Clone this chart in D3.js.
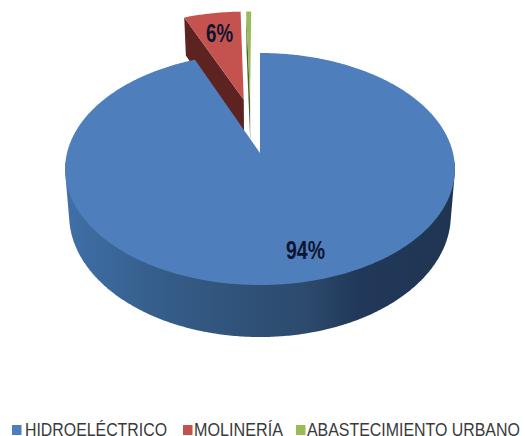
<!DOCTYPE html>
<html><head><meta charset="utf-8">
<script src="https://cdn.jsdelivr.net/npm/d3@7"></script>
<style>html,body{margin:0;padding:0;background:#fff}svg{display:block}</style>
</head><body><svg id="c" width="525" height="436"></svg>
<script>
const categories = ["HIDROELÉCTRICO", "MOLINERÍA", "ABASTECIMIENTO URBANO"];
const values = [93.8, 5.7, 0.5];
const sliceLabels = ["94%", "6%", ""];
const topColors = ["#4e7fbc", "#c4524f", "#9bbb59"];
const faceColors = ["#2c4d74", "#5c2321", "#4a6328"];
const sideStops = ["#4070a8", "#37608f", "#2f5278", "#2c4a6c", "#21385a", "#1f3552"];

const svg = d3.select("#c");
const color = d3.scaleOrdinal(categories, topColors);
const face = d3.scaleOrdinal(categories, faceColors);

// projective mapping of the unit disc to the top and bottom planes of the pie
const cx = 260;
const proj = (u, v, o) => {
  const w = 1 - o.p * v;
  return [o.cx + o.rx * u / w, o.ay + o.k * v / w];
};
const topP = {cx, rx: 193, ay: 153, k: 113.8, p: 0.138};
const botP = {cx, rx: 189, ay: 198, k: 119.7, p: 0.139};

const pie = d3.pie().sort(null).value(d => d.v);
const arcs = pie(categories.map((c, i) => ({c, v: values[i], label: sliceLabels[i]})));
const explode = {"MOLINERÍA": [-0.09, -0.50], "ABASTECIMIENTO URBANO": [-0.055, -0.50]};
const line = d3.line();

function rim(a0, a1, off, plane) {
  const n = Math.max(2, Math.ceil((a1 - a0) / 0.01));
  return d3.range(n + 1).map(i => {
    const t = a0 + (a1 - a0) * i / n;
    return proj(off[0] + Math.sin(t), off[1] - Math.cos(t), plane);
  });
}
function wedgePath(a, off, plane) {
  return line([proj(off[0], off[1], plane), ...rim(a.startAngle, a.endAngle, off, plane)]) + "Z";
}

const defs = svg.append("defs");
const grad = defs.append("linearGradient").attr("id", "side")
  .attr("gradientUnits", "userSpaceOnUse")
  .attr("x1", 65).attr("x2", 455).attr("y1", 0).attr("y2", 0);
sideStops.forEach((s, i) => {
  grad.append("stop").attr("offset", [0, .2, .45, .62, .75, 1][i]).attr("stop-color", s);
});

const g = svg.append("g");
// exploded slices, drawn behind the main slice
arcs.slice(1).forEach(a => {
  const off = explode[a.data.c];
  const t = a.startAngle;
  const edge = [off[0] + Math.sin(t), off[1] - Math.cos(t)];
  g.append("path").attr("fill", face(a.data.c)).attr("d", line([
    proj(off[0], off[1], topP), proj(edge[0], edge[1], topP),
    proj(edge[0], edge[1], botP), proj(off[0], off[1], botP)]) + "Z");
  g.append("path").attr("fill", color(a.data.c)).attr("d", wedgePath(a, off, topP));
});

// main slice: outer wall as the hull of the front rims, then top face
const main = arcs[0];
const zero = [0, 0];
const wallHull = d3.polygonHull([...rim(1.65, 4.63, zero, topP), ...rim(1.65, 4.63, zero, botP)]);
g.append("path").attr("fill", "url(#side)").attr("d", line(wallHull) + "Z");
g.append("path").attr("fill", color(main.data.c)).attr("d", wedgePath(main, zero, topP));

// text squeezed horizontally to the narrow face of the reference
const font = "'Liberation Sans',sans-serif";
function squeezed(parent, str, x, y, width, size, weight, fill) {
  const t = parent.append("text").attr("font-family", font).attr("font-size", size)
    .attr("font-weight", weight).attr("fill", fill).text(str);
  const k = width / t.node().getComputedTextLength();
  t.attr("transform", `translate(${x},${y}) scale(${k},1)`);
  return t;
}

// value labels
const labelAt = {"HIDROELÉCTRICO": [286, 259, 39], "MOLINERÍA": [206, 42, 27]};
arcs.filter(a => a.data.label).forEach(a => {
  const p = labelAt[a.data.c];
  squeezed(g, a.data.label, p[0], p[1], p[2], 25, "bold", "#0d1530");
});

// legend
const legendX = [[12, 25, 142], [183, 194, 89], [296, 307, 213]];
const lg = svg.append("g");
categories.forEach((c, i) => {
  const [sx, tx, tw] = legendX[i];
  lg.append("rect").attr("x", sx).attr("y", 425).attr("width", 9.5).attr("height", 10).attr("fill", color(c));
  squeezed(lg, c, tx, 435.5, tw, 18, "normal", "#3a3a3a");
});
</script></body></html>
